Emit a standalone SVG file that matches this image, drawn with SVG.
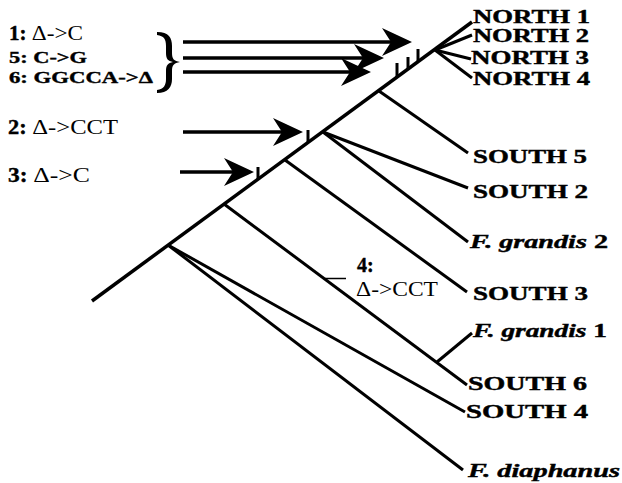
<svg xmlns="http://www.w3.org/2000/svg" width="622" height="483" viewBox="0 0 622 483">
<style>
.br{stroke:#000;stroke-width:3;fill:none;stroke-linecap:butt}
.sp{stroke:#000;stroke-width:3.5;fill:none}
.tk{stroke:#000;stroke-width:3;fill:none}
.ar{stroke:#000;stroke-width:3.5;fill:none}
.lb{font-family:"Liberation Serif","Times New Roman",serif;font-weight:bold;font-size:18px;fill:#000;stroke:#000;stroke-width:0.4}
.ml{font-family:"Liberation Serif","Times New Roman",serif;font-size:20px;fill:#000}
.sm{font-size:17px}
.bd{font-weight:bold;stroke:#000;stroke-width:0.4}
.rg{font-weight:normal;font-size:22px}
.it{font-style:italic}
</style>
<defs>
<marker id="ah" viewBox="-32 -16 42 32" refX="0" refY="0" markerWidth="42" markerHeight="32" markerUnits="userSpaceOnUse" orient="auto">
<path d="M8,0 L-22,-14 L-13,0 L-22,14 Z" fill="#000"/>
</marker>
</defs>
<rect width="622" height="483" fill="#fff"/>
<g id="connectors">
<line class="sp" x1="92" y1="301" x2="472" y2="22"/>
<line class="br" x1="435" y1="50" x2="472" y2="35"/>
<line class="br" x1="435" y1="50" x2="471" y2="59"/>
<line class="br" x1="435" y1="50" x2="472" y2="78"/>
<line class="br" x1="379" y1="91" x2="468" y2="153"/>
<line class="br" x1="323" y1="132" x2="468" y2="188"/>
<line class="br" x1="323" y1="132" x2="468" y2="242"/>
<line class="br" x1="285" y1="160" x2="467" y2="292"/>
<line class="br" x1="224" y1="204" x2="467" y2="385"/>
<line class="br" x1="437" y1="362" x2="472" y2="333"/>
<line class="br" x1="168" y1="245" x2="465" y2="412"/>
<line class="br" x1="168" y1="245" x2="463" y2="470"/>
<line class="tk" x1="397" y1="77" x2="397" y2="63"/>
<line class="tk" x1="408" y1="69" x2="408" y2="57"/>
<line class="tk" x1="418" y1="62" x2="418" y2="49"/>
<line class="tk" x1="308" y1="142" x2="308" y2="130"/>
<line class="tk" x1="258" y1="179" x2="258" y2="167"/>
<line stroke="#000" stroke-width="1.5" x1="325" y1="278.5" x2="346" y2="278.5"/>
<line class="ar" x1="183" y1="42" x2="404" y2="42" marker-end="url(#ah)"/>
<line class="ar" x1="183" y1="58" x2="376" y2="58" marker-end="url(#ah)"/>
<line class="ar" x1="183" y1="72" x2="363" y2="72" marker-end="url(#ah)"/>
<line class="ar" x1="183" y1="132" x2="295" y2="132" marker-end="url(#ah)"/>
<line class="ar" x1="180" y1="172" x2="246" y2="172" marker-end="url(#ah)"/>
<path id="brace" fill="#000" d="M157,32 C169,32 172,38 172,46 L172,53 C172,59 174,61 180,62 C174,63 172,65 172,71 L172,79 C172,87 168,93 157,93 L157,90 C164,89 166,85 166,79 L166,71 C166,65 168,63 173,62 C168,61 166,59 166,53 L166,46 C166,39 164,36 157,35 Z"/>
</g>
<g id="north1"><text class="lb" x="473" y="23" textLength="117" lengthAdjust="spacingAndGlyphs">NORTH 1</text></g>
<g id="north2"><text class="lb" x="473" y="42" textLength="116" lengthAdjust="spacingAndGlyphs">NORTH 2</text></g>
<g id="north3"><text class="lb" x="471" y="64" textLength="118" lengthAdjust="spacingAndGlyphs">NORTH 3</text></g>
<g id="north4"><text class="lb" x="473" y="85" textLength="117" lengthAdjust="spacingAndGlyphs">NORTH 4</text></g>
<g id="south5"><text class="lb" x="473" y="163" textLength="114" lengthAdjust="spacingAndGlyphs">SOUTH 5</text></g>
<g id="south2"><text class="lb" x="473" y="198" textLength="115" lengthAdjust="spacingAndGlyphs">SOUTH 2</text></g>
<g id="fgrandis2"><text class="lb" x="470" y="248" textLength="138" lengthAdjust="spacingAndGlyphs"><tspan class="it">F. grandis</tspan> 2</text></g>
<g id="south3"><text class="lb" x="473" y="300" textLength="115" lengthAdjust="spacingAndGlyphs">SOUTH 3</text></g>
<g id="fgrandis1"><text class="lb" x="473" y="337" textLength="134" lengthAdjust="spacingAndGlyphs"><tspan class="it">F. grandis</tspan> 1</text></g>
<g id="south6"><text class="lb" x="468" y="390" textLength="119" lengthAdjust="spacingAndGlyphs">SOUTH 6</text></g>
<g id="south4"><text class="lb" x="466" y="418" textLength="122" lengthAdjust="spacingAndGlyphs">SOUTH 4</text></g>
<g id="fdiaphanus"><text class="lb it" x="468" y="477" textLength="152" lengthAdjust="spacingAndGlyphs">F. diaphanus</text></g>
<g id="mut1"><text class="ml" x="9" y="40" textLength="74" lengthAdjust="spacingAndGlyphs"><tspan class="bd">1:</tspan> <tspan class="rg">Δ-&gt;C</tspan></text></g>
<g id="mut5"><text class="ml sm bd" x="9" y="63" textLength="78" lengthAdjust="spacingAndGlyphs">5: C-&gt;G</text></g>
<g id="mut6"><text class="ml sm bd" x="9" y="83" textLength="144" lengthAdjust="spacingAndGlyphs">6: GGCCA-&gt;Δ</text></g>
<g id="mut2"><text class="ml" x="8" y="134" textLength="110" lengthAdjust="spacingAndGlyphs"><tspan class="bd">2:</tspan> <tspan class="rg">Δ-&gt;CCT</tspan></text></g>
<g id="mut3"><text class="ml" x="8" y="182" textLength="82" lengthAdjust="spacingAndGlyphs"><tspan class="bd">3:</tspan> <tspan class="rg">Δ-&gt;C</tspan></text></g>
<g id="mut4"><text class="ml bd" x="357" y="272">4:</text><text class="ml rg" x="356" y="296" textLength="82" lengthAdjust="spacingAndGlyphs">Δ-&gt;CCT</text></g>
</svg>
